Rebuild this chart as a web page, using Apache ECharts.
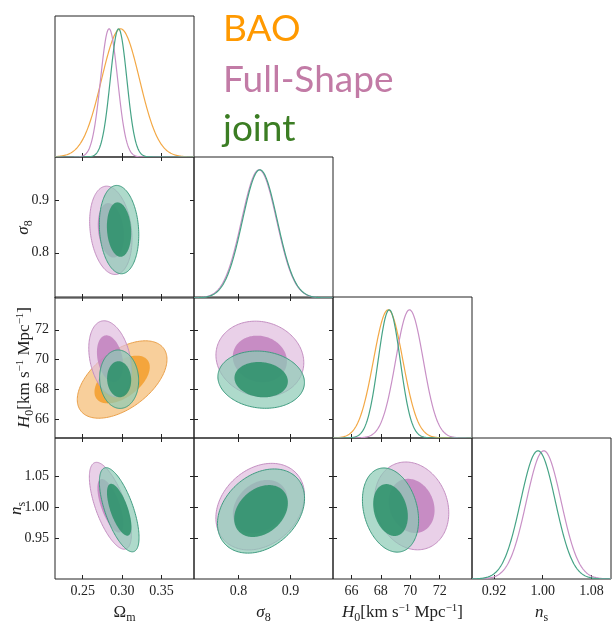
<!DOCTYPE html>
<html><head><meta charset="utf-8">
<script src="https://cdn.jsdelivr.net/npm/echarts@6/dist/echarts.min.js"></script>
<style>html,body{margin:0;padding:0;background:#fff}#c{width:615px;height:627px}</style>
</head><body><div id="c"></div>
<script>
// ---------------- data ----------------
const seriesNames = ['BAO', 'Full-Shape', 'joint'];

// axis ranges per parameter
const rangeOm = [0.215, 0.391];
const rangeS8 = [0.714, 0.982];
const rangeH0 = [64.75, 74.2];
const rangeNs = [0.884, 1.112];

// tick values
const ticksOm = [0.25, 0.30, 0.35];
const ticksS8 = [0.8, 0.9];
const ticksH0 = [66, 68, 70, 72];
const ticksNsX = [0.92, 1.00, 1.08];
const ticksNsY = [0.95, 1.00, 1.05];

// 1D marginals: [mean, sigma] for BAO, Full-Shape, joint (null = not shown)
const margOm = [[0.298, 0.024], [0.2835, 0.0108], [0.2955, 0.0105]];
const margS8 = [null, [0.8395, 0.0338], [0.841, 0.0335]];
const margH0 = [[68.5, 1.0], [69.95, 0.94], [68.57, 0.75]];
const margNs = [null, [1.0017, 0.0285], [0.9922, 0.0285]];

// 2D contours: [centre x, centre y, sigma x, sigma y, correlation]
const contOmS8 = [null, [0.2857, 0.8426, 0.01095, 0.0343, -0.2], [0.2961, 0.844, 0.0102, 0.0343, -0.12]];
const contOmH0 = [[0.300, 68.67, 0.0232, 1.06, 0.52], [0.2847, 70.06, 0.0110, 1.04, -0.28], [0.2962, 68.69, 0.0101, 0.80, -0.05]];
const contS8H0 = [null, [0.841, 70.05, 0.0346, 1.034, -0.1], [0.8435, 68.66, 0.0341, 0.784, -0.1]];
const contOmNs = [null, [0.2851, 1.0024, 0.01086, 0.0287, -0.66], [0.2963, 0.996, 0.01026, 0.0278, -0.66]];
const contS8Ns = [null, [0.8416, 1.001, 0.0349, 0.0286, 0.26], [0.8432, 0.9939, 0.0343, 0.0278, 0.3]];
const contH0Ns = [null, [70.1, 1.0022, 1.03, 0.029, -0.16], [68.66, 0.9955, 0.78, 0.0278, -0.24]];

// contour levels (95% and 68%) as radii in sigma units
const levelRadii = [2.4477, 1.5096];

// ---------------- styling ----------------
const lineColors = ['#f3a845', '#c890c6', '#46a386'];
const outerFill = ['rgba(245,186,112,0.7)', 'rgba(224,188,222,0.7)', 'rgba(139,202,181,0.7)'];
const innerFill = ['rgba(243,158,43,0.85)', 'rgba(190,122,186,0.8)', 'rgba(42,143,104,0.85)'];
const outerStroke = ['#eaa04a', '#c48fc2', '#3f9c80'];

const serif = 'Liberation Serif';
const nameRich = {
  u: {fontFamily: serif, fontSize: 17, lineHeight: 22, color: '#222'},
  i: {fontFamily: serif, fontSize: 17, lineHeight: 22, fontStyle: 'italic', color: '#222'},
  sub: {fontFamily: serif, fontSize: 12, lineHeight: 12, padding: [9, 0, 0, 0], color: '#222'},
  sup: {fontFamily: serif, fontSize: 11, lineHeight: 11, padding: [0, 0, 10, 0], color: '#222'}
};

const params = [
  {range: rangeOm, xt: ticksOm, yt: ticksOm, dec: 2, name: '{u|Ω}{sub|m}', gap: 20},
  {range: rangeS8, xt: ticksS8, yt: ticksS8, dec: 1, name: '{i|σ}{sub|8}', gap: 20},
  {range: rangeH0, xt: ticksH0, yt: ticksH0, dec: 0, name: '{i|H}{sub|0}{u|[km s}{sup|−1}{u| Mpc}{sup|−1}{u|]}', gap: 19},
  {range: rangeNs, xt: ticksNsX, yt: ticksNsY, dec: 2, name: '{i|n}{sub|s}', gap: 27}
];
const margs = [margOm, margS8, margH0, margNs];
const conts = {'1,0': contOmS8, '2,0': contOmH0, '2,1': contS8H0, '3,0': contOmNs, '3,1': contS8Ns, '3,2': contH0Ns};

const colLeft = [55, 194, 333, 472];
const rowTop = [16, 157, 297, 438];
const cellW = 139, cellH = 141;

const grids = [], xAxes = [], yAxes = [], series = [];
const tickStyle = {show: true, inside: true, length: 4, lineStyle: {color: '#222', width: 1}};
const labelStyle = {fontFamily: serif, fontSize: 14, color: '#222'};

function curveRender(lo, hi, color) {
  return function (p, api) {
    const m = api.value(0), s = api.value(1);
    const pts = [];
    for (let i = 0; i <= 240; i++) {
      const x = lo + (hi - lo) * i / 240;
      const y = Math.exp(-0.5 * ((x - m) / s) * ((x - m) / s));
      pts.push(api.coord([x, y]));
    }
    return {type: 'polyline', shape: {points: pts}, style: {stroke: color, lineWidth: 1.2, fill: null}};
  };
}
function ellipseRender(k) {
  return function (p, api) {
    const cx = api.value(0), cy = api.value(1), sx = api.value(2), sy = api.value(3), rho = api.value(4);
    const r = levelRadii[p.dataIndex];
    const q = Math.sqrt(1 - rho * rho);
    const pts = [];
    for (let i = 0; i < 160; i++) {
      const t = 2 * Math.PI * i / 160;
      const u = r * Math.cos(t), v = r * Math.sin(t);
      pts.push(api.coord([cx + sx * u, cy + sy * (rho * u + q * v)]));
    }
    const outer = p.dataIndex === 0;
    return {type: 'polygon', shape: {points: pts},
      style: outer ? {fill: outerFill[k], stroke: outerStroke[k], lineWidth: 1}
                   : {fill: innerFill[k], stroke: null}};
  };
}
function fmt(dec) { return v => Number(v).toFixed(dec); }

for (let r = 0; r < 4; r++) {
  for (let c = 0; c <= r; c++) {
    const gi = grids.length;
    grids.push({left: colLeft[c], top: rowTop[r], width: cellW, height: cellH,
      show: true, borderColor: '#222', borderWidth: 1, backgroundColor: 'transparent'});
    const px = params[c], py = params[r];
    const bottomRow = r === 3, firstCol = c === 0;
    const xi = xAxes.length;
    xAxes.push({type: 'value', gridIndex: gi, position: 'bottom', min: px.range[0], max: px.range[1],
      axisLine: {show: false}, splitLine: {show: false},
      axisTick: Object.assign({customValues: px.xt}, tickStyle),
      axisLabel: Object.assign({show: bottomRow, customValues: px.xt, formatter: fmt(px.dec), margin: 5}, labelStyle),
      name: bottomRow ? px.name : '', nameLocation: 'middle', nameGap: 23, nameMoveOverlap: false,
      nameTextStyle: {rich: nameRich}});
    const yi = yAxes.length;
    if (r === c) {
      yAxes.push({type: 'value', gridIndex: gi, min: 0, max: 1.1, show: true,
        axisLine: {show: false}, axisTick: {show: false}, axisLabel: {show: false}, splitLine: {show: false}});
      const m = margs[c];
      for (let k = 0; k < 3; k++) {
        if (!m[k]) continue;
        series.push({type: 'custom', name: seriesNames[k], xAxisIndex: xi, yAxisIndex: yi, clip: true,
          renderItem: curveRender(px.range[0], px.range[1], lineColors[k]), data: [m[k]], silent: true});
      }
    } else {
      yAxes.push({type: 'value', gridIndex: gi, position: 'left', min: py.range[0], max: py.range[1],
        axisLine: {show: false}, splitLine: {show: false},
        axisTick: Object.assign({customValues: py.yt}, tickStyle),
        axisLabel: Object.assign({show: firstCol, customValues: py.yt, formatter: fmt(py.dec), margin: 6}, labelStyle),
        name: firstCol ? py.name : '', nameLocation: 'middle', nameRotate: 90, nameGap: py.gap,
        nameMoveOverlap: false, nameTextStyle: {rich: nameRich}});
      // top and right ticks
      xAxes.push({type: 'value', gridIndex: gi, position: 'top', min: px.range[0], max: px.range[1],
        axisLine: {show: false}, splitLine: {show: false}, axisLabel: {show: false},
        axisTick: Object.assign({customValues: px.xt}, tickStyle)});
      yAxes.push({type: 'value', gridIndex: gi, position: 'right', min: py.range[0], max: py.range[1],
        axisLine: {show: false}, splitLine: {show: false}, axisLabel: {show: false},
        axisTick: Object.assign({customValues: py.yt}, tickStyle)});
      const cs = conts[r + ',' + c];
      for (let k = 0; k < 3; k++) {
        if (!cs[k]) continue;
        series.push({type: 'custom', name: seriesNames[k], xAxisIndex: xi, yAxisIndex: yi, clip: true,
          renderItem: ellipseRender(k), data: [cs[k], cs[k]], silent: true});
      }
    }
  }
}

const legendColors = ['#ff9900', '#c27ba6', '#3b7d23'];
const legendTop = [11, 62, 111];
const graphic = seriesNames.map((n, k) => ({
  type: 'text', left: 223, top: legendTop[k],
  style: {text: n, fill: legendColors[k], font: '37px Lato', textVerticalAlign: 'top'}
}));

const chart = echarts.init(document.getElementById('c'), null, {renderer: 'canvas'});
chart.setOption({
  animation: false,
  backgroundColor: '#fff',
  grid: grids, xAxis: xAxes, yAxis: yAxes, series: series, graphic: graphic
});
</script>
</body></html>
